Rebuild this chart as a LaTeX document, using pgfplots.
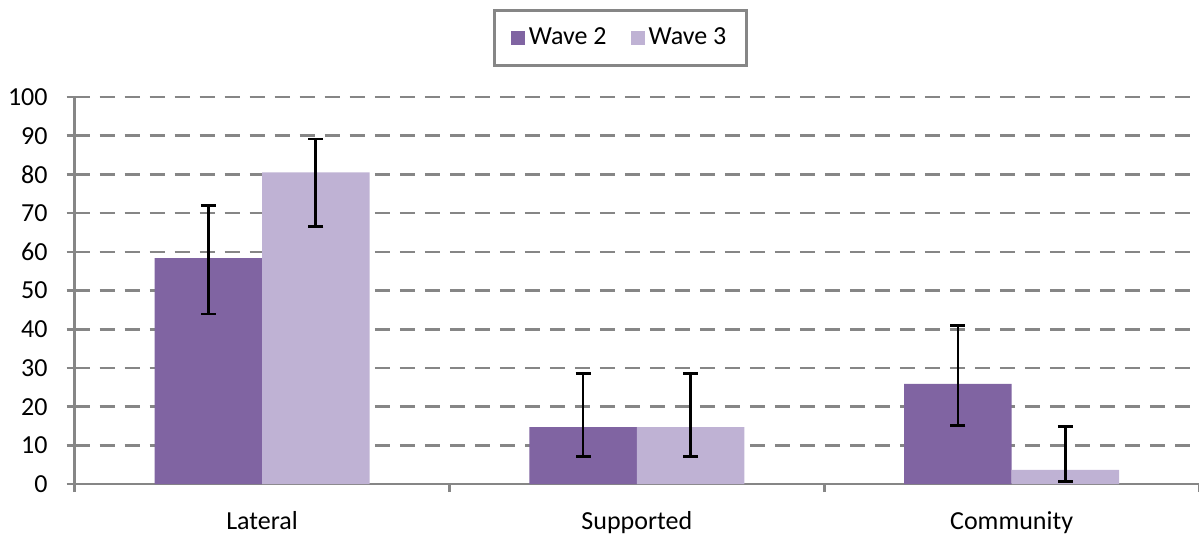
\documentclass[border=0pt]{standalone}
\usepackage{fontspec}
\setmainfont{Carlito}
\usepackage{pgfplots}
\pgfplotsset{compat=1.18}
\usepackage{pgfplotstable}

\definecolor{waveA}{HTML}{8064A2}
\definecolor{waveB}{HTML}{BFB2D4}
\definecolor{axgray}{HTML}{868686}

% x = category index, y = percent, ep/em = upper/lower error
\pgfplotstableread{
x y ep em
0 58.4 13.6 14.5
1 14.7 13.9 7.6
2 25.9 15.0 10.7
}\wavetwo
\pgfplotstableread{
x y ep em
0 80.5 8.6 14.0
1 14.7 13.9 7.6
2 3.7 11.2 3.0
}\wavethree

\begin{document}
\fontsize{13}{15}\selectfont
\begin{tikzpicture}
\begin{axis}[
  scale only axis,
  width=562pt, height=193.5pt,
  xmin=-0.5, xmax=2.5, ymin=0, ymax=100,
  ybar=0pt, bar width=0.2867,
  axis x line=bottom, axis y line=left,
  axis line style={axgray, line width=1.3pt, -},
  ytick={0,10,...,100},
  xtick={-0.5,0.5,1.5,2.5}, xticklabels={},
  extra x ticks={0,1,2},
  extra x tick labels={Lateral,Supported,Community},
  extra x tick style={major tick length=0pt, grid=none,
    tick label style={yshift=-9pt}},
  tick align=outside, major tick length=4pt,
  tick style={axgray, line width=1.3pt},
  ymajorgrids,
  grid style={axgray, line width=1.3pt, dash pattern=on 7.5pt off 5pt},
  /pgf/number format/assume math mode=true,
  tick label style={font=\fontsize{13}{15}\selectfont},
  yticklabel style={xshift=-5pt},
  clip=false,
  legend columns=2,
  legend style={at={(0.4855,1.227)}, anchor=north, draw=axgray,
    line width=1.3pt, inner xsep=8pt, inner ysep=6.5pt,
    font=\fontsize{13}{15}\selectfont,
    /tikz/every even column/.append style={column sep=10pt}},
  legend image code/.code={\fill[#1] (0pt,-3.5pt) rectangle (7pt,3.5pt);},
  error bars/y dir=both, error bars/y explicit,
  error bars/error bar style={black, line width=1.3pt},
  error bars/error mark options={black, line width=1.3pt, mark size=3.75pt, rotate=90},
]
\addplot[fill=waveA, draw=none]
  table[x=x, y=y, y error plus=ep, y error minus=em]{\wavetwo};
\addplot[fill=waveB, draw=none]
  table[x=x, y=y, y error plus=ep, y error minus=em]{\wavethree};
\legend{Wave 2, Wave 3}
\coordinate (bl) at (rel axis cs:-0.0664,-0.1292);
\coordinate (tr) at (rel axis cs:1,1.2506);
\end{axis}
\pgfresetboundingbox
\path (bl) rectangle (tr);
\end{tikzpicture}
\end{document}
